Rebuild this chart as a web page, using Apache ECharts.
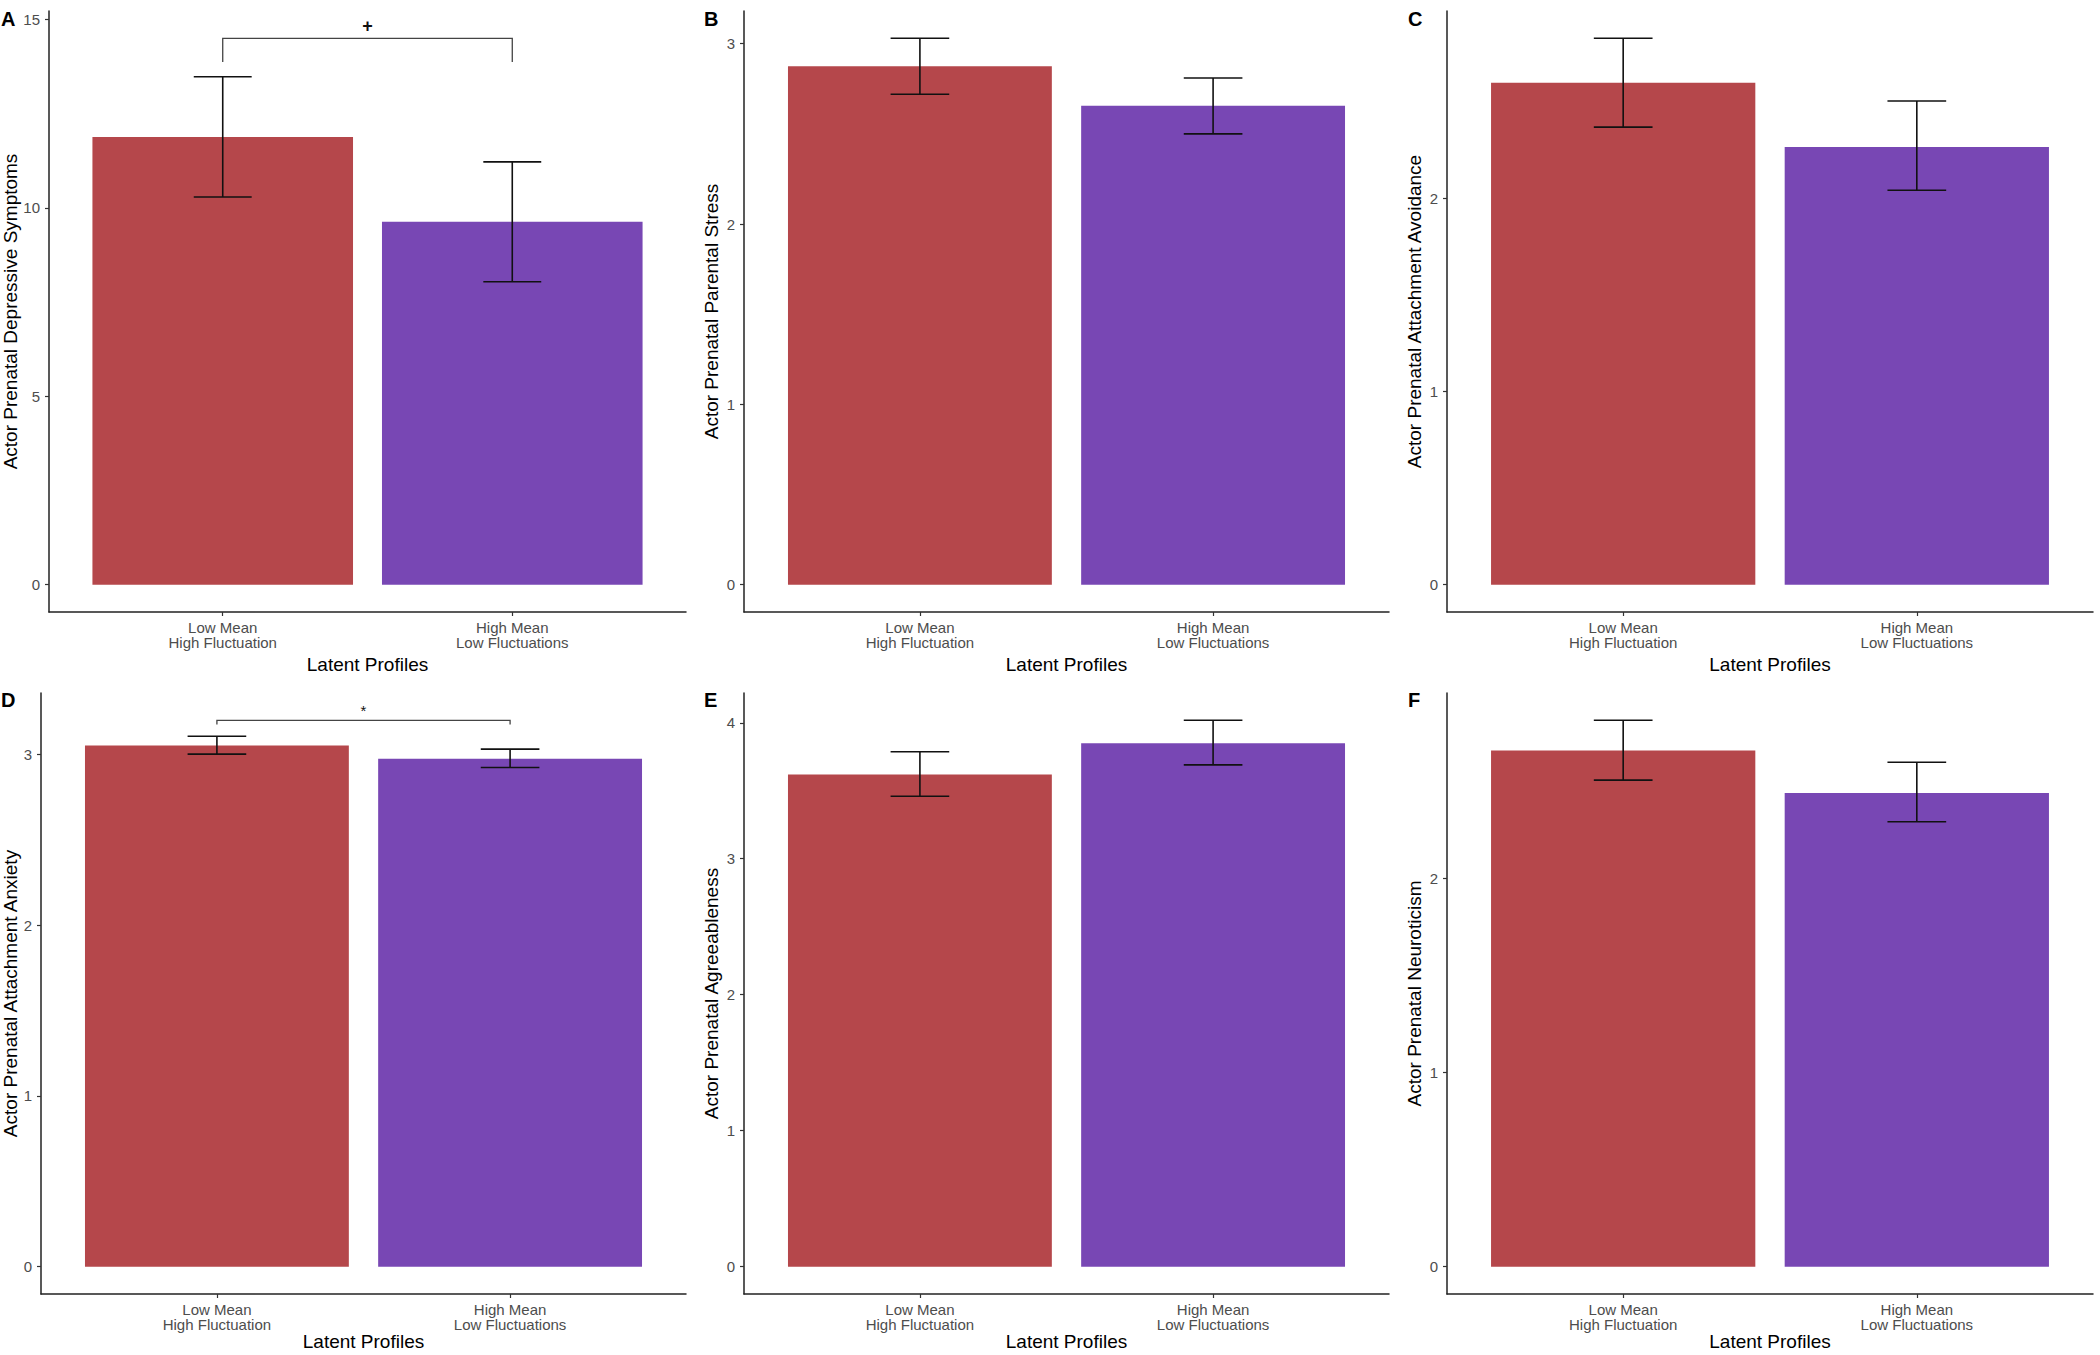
<!DOCTYPE html>
<html><head><meta charset="utf-8">
<script src="https://cdn.jsdelivr.net/npm/echarts@6/dist/echarts.min.js"></script>
<style>html,body{margin:0;padding:0;background:#fff}#c{width:2100px;height:1355px}</style>
</head><body><div id="c"></div>
<script>
// ---------- data ----------
const categories = ['Low Mean\nHigh Fluctuation', 'High Mean\nLow Fluctuations'];
const panelLetters = ['A', 'B', 'C', 'D', 'E', 'F'];
const xTitle = 'Latent Profiles';
const yTitles = [
  'Actor Prenatal Depressive Symptoms',
  'Actor Prenatal Parental Stress',
  'Actor Prenatal Attachment Avoidance',
  'Actor Prenatal Attachment Anxiety',
  'Actor Prenatal Agreeableness',
  'Actor Prenatal Neuroticism'
];
const means  = [[11.88, 9.63], [2.875, 2.656], [2.60, 2.267], [3.053, 2.975], [3.62, 3.85], [2.661, 2.442]];
const lowers = [[10.29, 8.04], [2.72, 2.50], [2.37, 2.043], [3.002, 2.924], [3.46, 3.69], [2.508, 2.293]];
const uppers = [[13.48, 11.22], [3.03, 2.81], [2.83, 2.505], [3.107, 3.031], [3.787, 4.018], [2.816, 2.60]];
const yTicks = [[0, 5, 10, 15], [0, 1, 2, 3], [0, 1, 2], [0, 1, 2, 3], [0, 1, 2, 3, 4], [0, 1, 2]];
const bracketY     = [14.5, null, null, 3.20, null, null];
const bracketTip   = [13.87, null, null, 3.176, null, null];
const bracketLabel = ['+', '', '', '*', '', ''];

// ---------- styles / layout ----------
const barColors = ['#B5474B', '#7847B4'];
const FONT = '"Liberation Sans", Arial, sans-serif';
const layout = [
  {left: 49,   width: 637, top: 11,  height: 601, yGap: 29.5, xGap: 43, lx: 1,    ly: 9},
  {left: 744,  width: 645, top: 11,  height: 601, yGap: 22.8, xGap: 43, lx: 704,  ly: 9},
  {left: 1447, width: 646, top: 11,  height: 601, yGap: 22.7, xGap: 43, lx: 1408, ly: 9},
  {left: 41,   width: 645, top: 693, height: 601, yGap: 21.5, xGap: 38, lx: 1,    ly: 690},
  {left: 744,  width: 645, top: 693, height: 601, yGap: 22.8, xGap: 38, lx: 704,  ly: 690},
  {left: 1447, width: 646, top: 693, height: 601, yGap: 22.7, xGap: 38, lx: 1408, ly: 690}
];

const grids = [], xAxes = [], yAxes = [], series = [], graphics = [];
layout.forEach((L, i) => {
  grids.push({left: L.left, top: L.top, width: L.width, height: L.height, outerBoundsMode: 'none', containLabel: false});
  xAxes.push({
    type: 'value', gridIndex: i, min: 0.4, max: 2.6,
    name: xTitle, nameLocation: 'middle', nameGap: L.xGap, nameMoveOverlap: false,
    nameTextStyle: {fontFamily: FONT, fontSize: 19, color: '#000'},
    axisLine: {show: true, onZero: false, lineStyle: {color: '#222', width: 1.5}},
    axisTick: {show: true, length: 4, customValues: [1, 2], lineStyle: {color: '#333', width: 1.2}},
    axisLabel: {show: true, customValues: [1, 2], margin: 8, fontFamily: FONT, fontSize: 15, lineHeight: 15,
      color: '#4D4D4D', formatter: v => categories[Math.round(v) - 1] || ''},
    splitLine: {show: false}
  });
  const M = Math.max(...uppers[i], bracketY[i] == null ? -Infinity : bracketY[i]);
  yAxes.push({
    type: 'value', gridIndex: i, min: -0.05 * M, max: 1.05 * M,
    name: yTitles[i], nameLocation: 'middle', nameGap: L.yGap, nameMoveOverlap: false,
    nameTextStyle: {fontFamily: FONT, fontSize: 19, color: '#000'},
    axisLine: {show: true, onZero: false, lineStyle: {color: '#222', width: 1.5}},
    axisTick: {show: true, length: 4, customValues: yTicks[i], lineStyle: {color: '#333', width: 1.2}},
    axisLabel: {show: true, customValues: yTicks[i], margin: 9, fontFamily: FONT, fontSize: 15, color: '#4D4D4D'},
    splitLine: {show: false}
  });
  series.push({
    type: 'bar', xAxisIndex: i, yAxisIndex: i, silent: true,
    barWidth: 0.9 * L.width / 2.2,
    data: means[i].map((v, j) => ({value: [j + 1, v], itemStyle: {color: barColors[j]}}))
  });
  series.push({
    type: 'custom', xAxisIndex: i, yAxisIndex: i, silent: true, z: 5,
    encode: {x: 0, y: [1, 2]},
    data: means[i].map((v, j) => [j + 1, lowers[i][j], uppers[i][j]]),
    renderItem: (p, api) => {
      const x = api.value(0), lo = api.value(1), hi = api.value(2);
      const a = api.coord([x, lo]), b = api.coord([x, hi]);
      const hl = api.coord([x - 0.1, hi]), hr = api.coord([x + 0.1, hi]);
      const ll = api.coord([x - 0.1, lo]), lr = api.coord([x + 0.1, lo]);
      const st = {stroke: '#111', lineWidth: 1.6};
      return {type: 'group', children: [
        {type: 'line', shape: {x1: a[0], y1: a[1], x2: b[0], y2: b[1]}, style: st},
        {type: 'line', shape: {x1: hl[0], y1: hl[1], x2: hr[0], y2: hr[1]}, style: st},
        {type: 'line', shape: {x1: ll[0], y1: ll[1], x2: lr[0], y2: lr[1]}, style: st}
      ]};
    }
  });
  if (bracketY[i] != null) {
    const lab = bracketLabel[i];
    series.push({
      type: 'custom', xAxisIndex: i, yAxisIndex: i, silent: true, z: 6,
      encode: {x: [0, 1], y: [2, 3]},
      data: [[1, 2, bracketY[i], bracketTip[i]]],
      renderItem: (p, api) => {
        const x1 = api.value(0), x2 = api.value(1), yt = api.value(2), yb = api.value(3);
        const p1 = api.coord([x1, yb]), p2 = api.coord([x1, yt]), p3 = api.coord([x2, yt]), p4 = api.coord([x2, yb]);
        const mid = api.coord([(x1 + x2) / 2, yt]);
        return {type: 'group', children: [
          {type: 'polyline', shape: {points: [p1, p2, p3, p4]}, style: {stroke: '#444', lineWidth: 1.3, fill: null}},
          {type: 'text', x: mid[0], y: mid[1] - (lab === '*' ? 10 : 12),
            style: {text: lab, fontFamily: FONT, fontSize: lab === '*' ? 15 : 18, fontWeight: lab === '+' ? 'bold' : 'normal',
              fill: '#111', align: 'center', verticalAlign: 'middle'}}
        ]};
      }
    });
  }
  graphics.push({type: 'text', left: L.lx, top: L.ly,
    style: {text: panelLetters[i], font: 'bold 20px ' + FONT, fill: '#000'}});
});

const chart = echarts.init(document.getElementById('c'), null, {renderer: 'svg', width: 2100, height: 1355});
chart.setOption({
  animation: false,
  backgroundColor: '#fff',
  grid: grids, xAxis: xAxes, yAxis: yAxes, series: series, graphic: graphics
});
</script>
</body></html>
